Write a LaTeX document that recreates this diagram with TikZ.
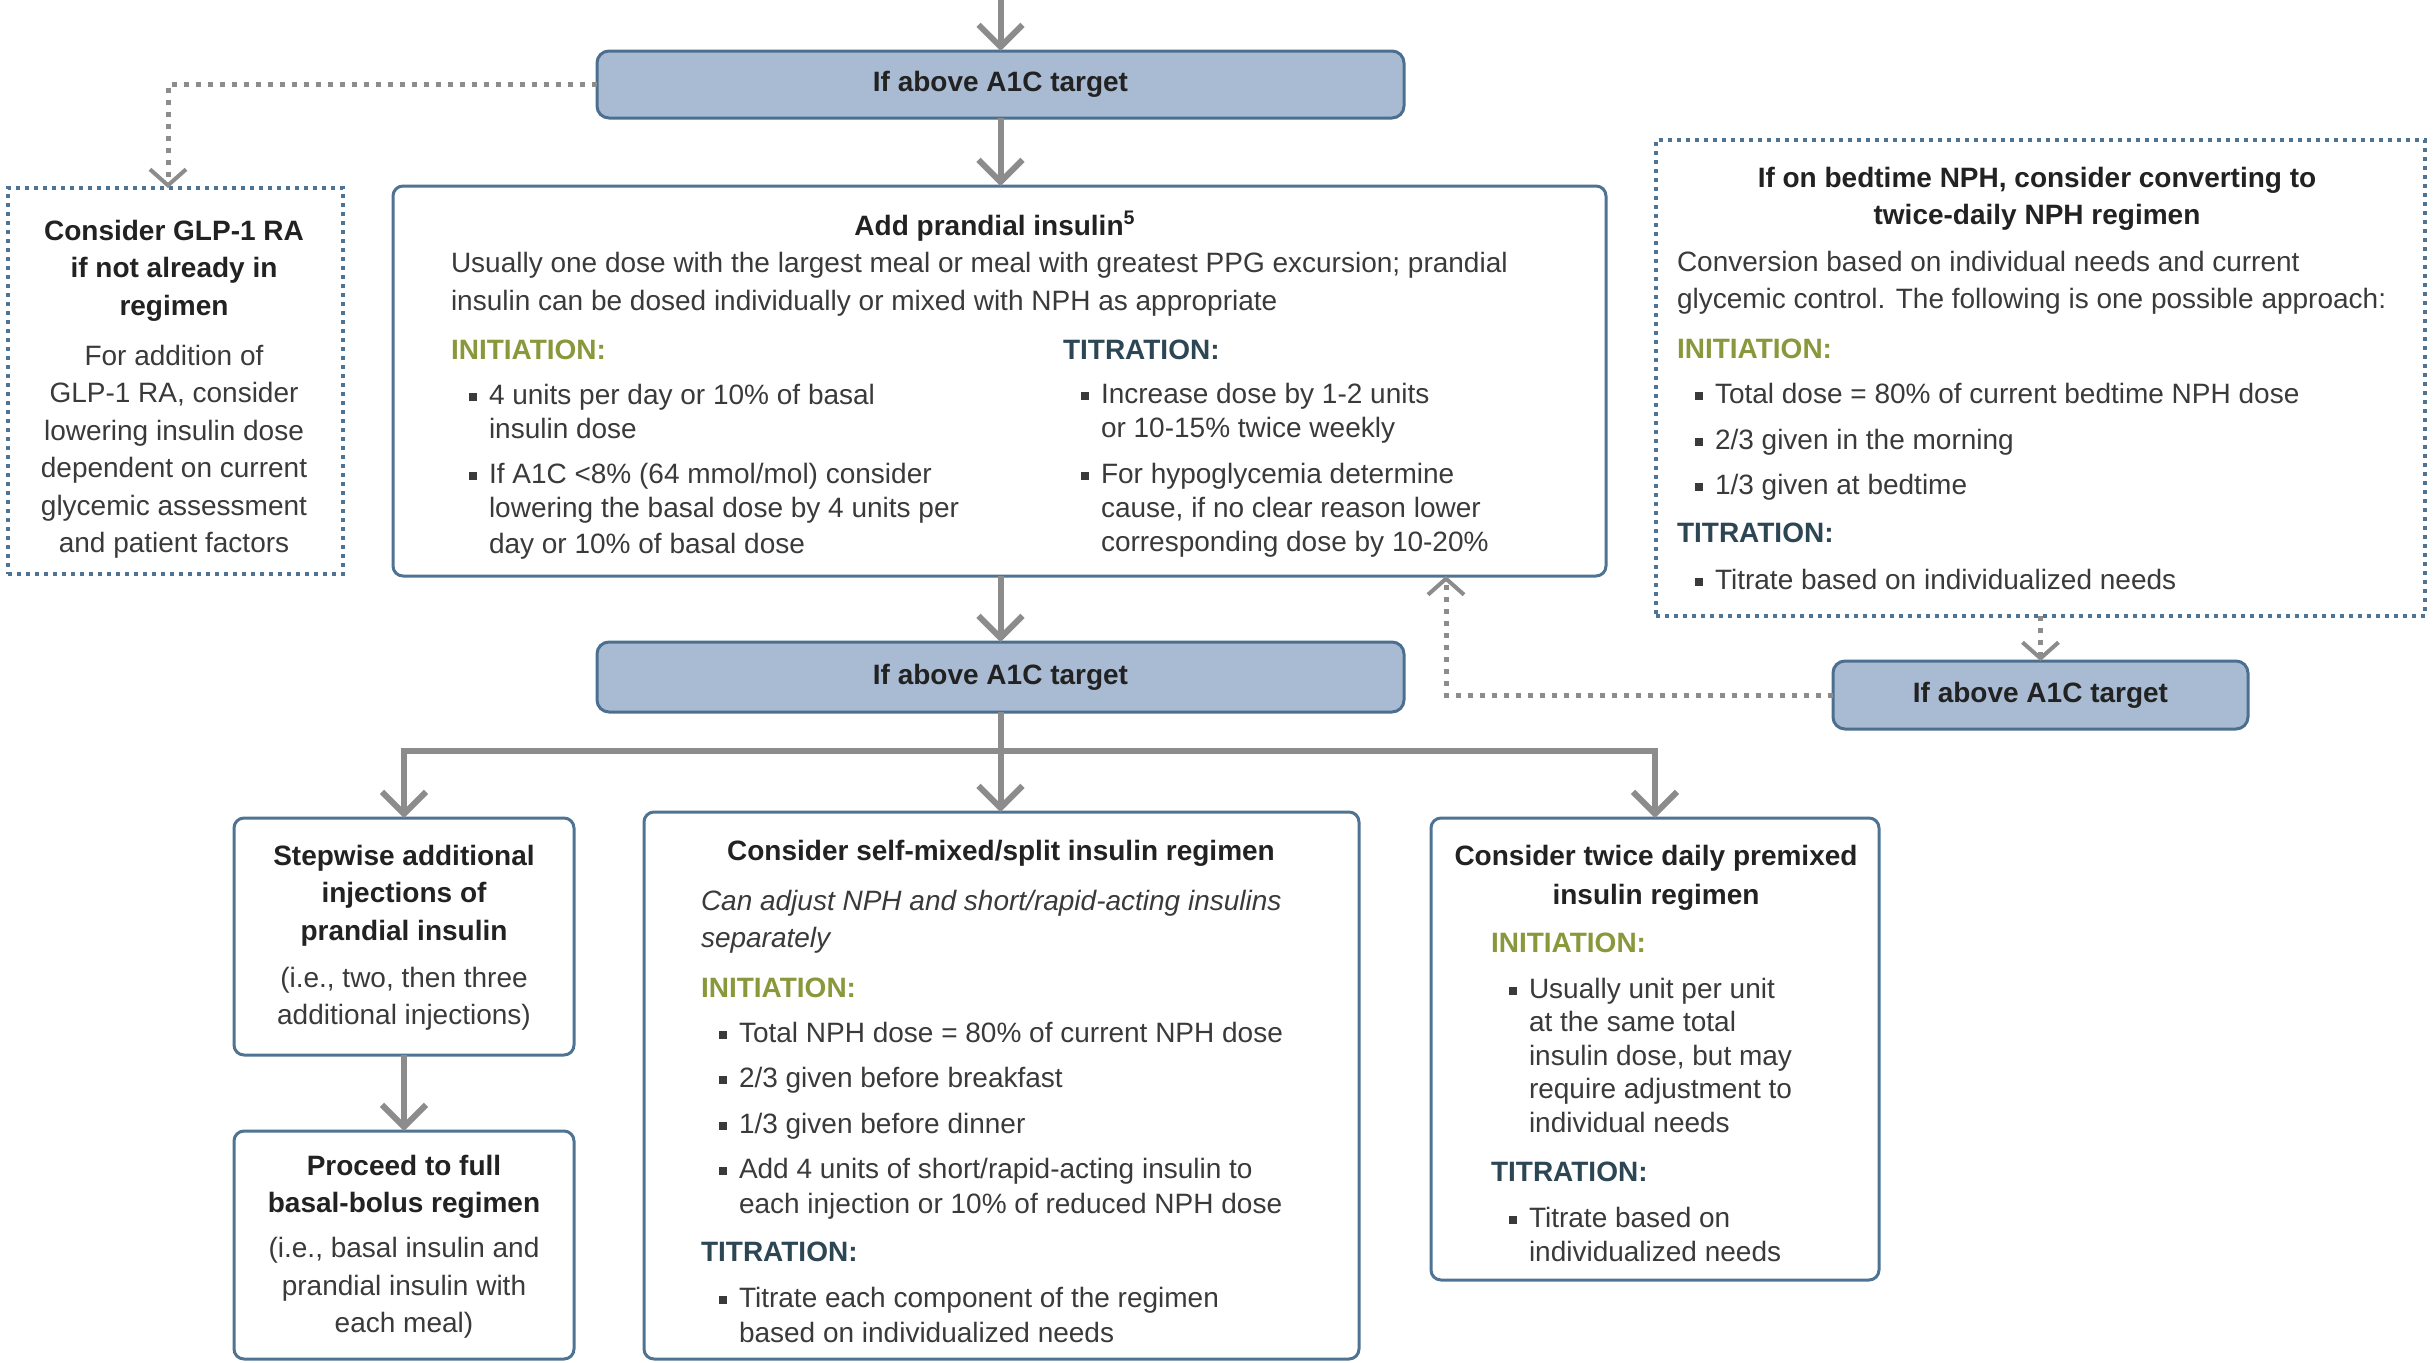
\documentclass[tikz,border=0pt]{standalone}
\usepackage{fontspec}
\setmainfont{Liberation Sans}
\usetikzlibrary{arrows.meta}
\definecolor{boxfill}{HTML}{A8BBD3}
\definecolor{boxdraw}{HTML}{4D6F8F}
\definecolor{frame}{HTML}{4F7393}
\definecolor{arr}{HTML}{8C8C8C}
\definecolor{txt}{HTML}{3A3A3A}
\definecolor{ttl}{HTML}{222222}
\definecolor{initc}{HTML}{8A983C}
\definecolor{titc}{HTML}{2C4654}
\newcommand\bul{\makebox[19pt][l]{\hspace{8.75pt}\rule[1.7pt]{4pt}{4pt}}}
\newcommand\ind{\hspace*{19pt}}
\newcommand\inith{{\bfseries\color{initc}INITIATION:}}
\newcommand\tith{{\bfseries\color{titc}TITRATION:}}
\newcommand\B[1]{{\bfseries\color{ttl}#1}}
\begin{document}
\begin{tikzpicture}[x=0.5pt,y=-0.5pt,
  every node/.style={inner sep=0pt, outer sep=0pt, text=txt},
  bluebox/.style={draw=boxdraw, fill=boxfill, line width=1.5pt, rounded corners=6pt, font=\fontsize{14}{17}\selectfont\bfseries, text=ttl},
  txtbox/.style={draw=frame, fill=white, line width=1.5pt, rounded corners=5pt},
  dotbox/.style={draw=frame, line width=2pt, dash pattern=on 2pt off 2.5pt},
  flow/.style={draw=arr, line width=3pt, -{Straight Barb[length=11pt,width=22pt]}},
  flowline/.style={draw=arr, line width=3pt},
  dflow/.style={draw=arr, line width=2.5pt, dash pattern=on 2.5pt off 3.5pt, -{Straight Barb[length=8pt,width=18pt,line width=2pt]}},
  f17/.style={font=\fontsize{14}{17}\selectfont},
  f175/.style={font=\fontsize{14}{17.5}\selectfont},
  f185/.style={font=\fontsize{14}{18.5}\selectfont},
  f1875/.style={font=\fontsize{14}{18.75}\selectfont},
  f168/.style={font=\fontsize{14}{16.8}\selectfont},
  f195/.style={font=\fontsize{14}{19.5}\selectfont}
]
\useasboundingbox[fill=white] (0,0) rectangle (2433,1362);

% boxes
\node[bluebox, minimum width=403.5pt, minimum height=33.5pt] (b1) at (1000.5,84.5) {If above A1C target};
\node[dotbox, minimum width=167.5pt, minimum height=193pt] (glp) at (175.5,381) {};
\node[txtbox, minimum width=606.5pt, minimum height=195pt] (pran) at (999.5,381) {};
\node[bluebox, minimum width=403.5pt, minimum height=35pt] (b2) at (1000.5,677) {If above A1C target};
\node[dotbox, minimum width=384.5pt, minimum height=238pt] (nph) at (2040.5,378) {};
\node[bluebox, minimum width=207.5pt, minimum height=34pt] (b3) at (2040.5,695) {If above A1C target};
\node[txtbox, minimum width=170pt, minimum height=118.5pt] (step) at (404,936.5) {};
\node[txtbox, minimum width=170pt, minimum height=114pt] (full) at (404,1245) {};
\node[txtbox, minimum width=357.5pt, minimum height=273.5pt] (mix) at (1001.5,1085.5) {};
\node[txtbox, minimum width=224pt, minimum height=231pt] (pre) at (1655,1049) {};

% texts
\node[anchor=base, f1875] (glpt) at (174,240) {\begin{tabular}[t]{@{}c@{}}
\B{Consider GLP-1 RA}\\ \B{if not already in}\\ \B{regimen}\\[6.25pt]
For addition of\\ GLP-1 RA, consider\\ lowering insulin dose\\ dependent on current\\ glycemic assessment\\ and patient factors
\end{tabular}};

\node[anchor=base, f17] (prant) at (995,235) {\B{Add prandial insulin\textsuperscript{5}}};
\node[anchor=base west, f185] (prani) at (451,272) {\begin{tabular}[t]{@{}l@{}}
Usually one dose with the largest meal or meal with greatest PPG excursion; prandial\\[0.5pt]
insulin can be dosed individually or mixed with NPH as appropriate
\end{tabular}};
\node[anchor=base west, f17] (pranl) at (451,359) {\begin{tabular}[t]{@{}l@{}}
\inith\\[5.5pt]
\bul 4 units per day or 10\% of basal\\
\ind insulin dose\\[5.5pt]
\bul If A1C <8\% (64 mmol/mol) consider\\
\ind lowering the basal dose by 4 units per\\[1pt]
\ind day or 10\% of basal dose
\end{tabular}};
\node[anchor=base west, f17] (pranr) at (1063,359) {\begin{tabular}[t]{@{}l@{}}
\tith\\[5pt]
\bul Increase dose by 1-2 units\\
\ind or 10-15\% twice weekly\\[6pt]
\bul For hypoglycemia determine\\
\ind cause, if no clear reason lower\\
\ind corresponding dose by 10-20\%
\end{tabular}};

\node[anchor=base, f185] (npht) at (2037,187) {\begin{tabular}[t]{@{}c@{}}
\B{If on bedtime NPH, consider converting to}\\ \B{twice-daily NPH regimen}
\end{tabular}};
\node[anchor=base west, f175] (nphb) at (1677,271) {\begin{tabular}[t]{@{}l@{}}
Conversion based on individual needs and current\\[1pt]
glycemic control. The following is one possible approach:\\[7.5pt]
\inith\\[5pt]
\bul Total dose = 80\% of current bedtime NPH dose\\[5.5pt]
\bul 2/3 given in the morning\\[5pt]
\bul 1/3 given at bedtime\\[6.5pt]
\tith\\[6pt]
\bul Titrate based on individualized needs
\end{tabular}};

\node[anchor=base, f1875] (stept) at (404,865) {\begin{tabular}[t]{@{}c@{}}
\B{Stepwise additional}\\ \B{injections of}\\ \B{prandial insulin}\\[4.75pt]
(i.e., two, then three\\ additional injections)
\end{tabular}};
\node[anchor=base, f1875] (fullt) at (404,1175) {\begin{tabular}[t]{@{}c@{}}
\B{Proceed to full}\\ \B{basal-bolus regimen}\\[3.75pt]
(i.e., basal insulin and\\ prandial insulin with\\ each meal)
\end{tabular}};

\node[anchor=base, f17] (mixt) at (1001,860) {\B{Consider self-mixed/split insulin regimen}};
\node[anchor=base west, f175] (mixb) at (701,910) {\begin{tabular}[t]{@{}l@{}}
\textit{Can adjust NPH and short/rapid-acting insulins}\\[1pt]
\textit{separately}\\[7.5pt]
\inith\\[5pt]
\bul Total NPH dose = 80\% of current NPH dose\\[5pt]
\bul 2/3 given before breakfast\\[5.5pt]
\bul 1/3 given before dinner\\[5pt]
\bul Add 4 units of short/rapid-acting insulin to\\
\ind each injection or 10\% of reduced NPH dose\\[6.5pt]
\tith\\[5.5pt]
\bul Titrate each component of the regimen\\
\ind based on individualized needs
\end{tabular}};

\node[anchor=base, f195] (pret) at (1656,865) {\begin{tabular}[t]{@{}c@{}}
\B{Consider twice daily premixed}\\ \B{insulin regimen}
\end{tabular}};
\node[anchor=base west, f168] (preb) at (1491,952) {\begin{tabular}[t]{@{}l@{}}
\inith\\[6.2pt]
\bul Usually unit per unit\\
\ind at the same total\\
\ind insulin dose, but may\\
\ind require adjustment to\\
\ind individual needs\\[7.7pt]
\tith\\[6.2pt]
\bul Titrate based on\\
\ind individualized needs
\end{tabular}};

% connectors
\coordinate (top) at (1000.5,0);
\coordinate (br) at (1000.5,751);
\coordinate (pu) at (1446,576);
\coordinate (gl) at (168,188);
\draw[flow] (top) -- (b1.north);
\draw[flow] (b1.south) -- (b1.south |- pran.north);
\draw[flow] (b2.north |- pran.south) -- (b2.north);
\draw[flowline] (b2.south) -- (br);
\draw[flow] (br) -| (step.north);
\draw[flow] (br) -| (pre.north);
\draw[flow] (br) -- (br |- mix.north);
\draw[flow] (step.south) -- (full.north);
\draw[dflow] (b1.west) -| (gl);
\draw[dflow] (nph.south) -- (b3.north);
\draw[dflow] (b3.west) -| (pu);
\end{tikzpicture}
\end{document}
